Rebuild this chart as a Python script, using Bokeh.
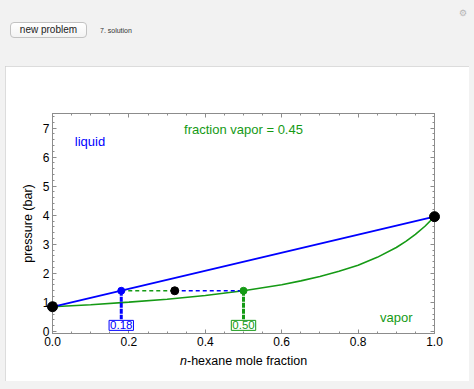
from bokeh.plotting import figure
from bokeh.models import (Range1d, LinearAxis, Label, Button, Div, InlineStyleSheet,
                          FixedTicker, PrintfTickFormatter, CustomJSTickFormatter)
from bokeh.core.properties import value
from bokeh.layouts import column, row
from bokeh.embed import file_html
from bokeh.resources import INLINE

# ---------------- data ----------------
pure_x = [0.0, 1.0]                 # pure heptane / pure hexane
pure_p = [0.85, 3.95]               # saturation pressures (bar)
liquid_x = [0.0, 1.0]               # bubble line (liquid)
liquid_p = [0.85, 3.95]
vapor_x = [0.0, 0.1, 0.2, 0.3, 0.4, 0.5, 0.6, 0.65, 0.7, 0.75, 0.8, 0.85, 0.9, 0.925, 0.95, 0.975, 1.0]
vapor_p = [0.85, 0.92, 1.01, 1.11, 1.24, 1.40, 1.61, 1.74, 1.89, 2.07, 2.28, 2.55, 2.89, 3.10, 3.34, 3.62, 3.95]
x_liquid = 0.18                     # liquid composition on the tie line
y_vapor = 0.50                      # vapor composition on the tie line
z_overall = 0.32                    # overall composition
p_system = 1.40                     # system pressure (bar)
fraction_vapor = 0.45
x_ticks = [0.0, 0.2, 0.4, 0.6, 0.8, 1.0]
y_ticks = [0, 1, 2, 3, 4, 5, 6, 7]

# ---------------- styles ----------------
BLUE = "#0000ff"
GREEN = "#159a15"
FRAME = "#8c8c8c"
BG = "#f2f2f2"
FONT = "Liberation Sans"
BOX_Y = 0.21
BOX_TOP = 0.42
Y0 = -0.07
Y1 = 7.5

x_minor = [round(i * 0.05, 2) for i in range(21)]
y_minor = [round(i * 0.2, 1) for i in range(38)]

p = figure(width=464, height=315, x_range=Range1d(0, 1), y_range=Range1d(Y0, Y1),
           output_backend="svg", toolbar_location=None,
           min_border_left=47, min_border_right=35, min_border_top=47, min_border_bottom=48,
           background_fill_color="white", border_fill_color="white", margin=(0, 0, 0, 5))
p.grid.visible = False
p.outline_line_color = FRAME
p.styles = {"outline": "1px solid #d0d0d0", "outline-offset": "-1px"}

xa = p.below[0]
ya = p.left[0]
xa.ticker = FixedTicker(ticks=x_ticks, minor_ticks=x_minor)
ya.ticker = FixedTicker(ticks=y_ticks, minor_ticks=y_minor)
xa.formatter = PrintfTickFormatter(format="%.1f")
ya.formatter = PrintfTickFormatter(format="%d")
ya.axis_label = "pressure (bar)"
ya.axis_label_text_font = FONT
ya.axis_label_text_font_size = "12.5px"
ya.axis_label_text_font_style = "normal"
ya.axis_label_text_color = "black"
ya.axis_label_standoff = 5

blank = CustomJSTickFormatter(code="return ''")
top_axis = LinearAxis(ticker=FixedTicker(ticks=x_ticks, minor_ticks=x_minor), formatter=blank)
right_axis = LinearAxis(ticker=FixedTicker(ticks=y_ticks, minor_ticks=y_minor), formatter=blank)
p.add_layout(top_axis, "above")
p.add_layout(right_axis, "right")

for ax in [xa, ya, top_axis, right_axis]:
    ax.major_tick_in = 4
    ax.major_tick_out = 0
    ax.minor_tick_in = 2
    ax.minor_tick_out = 0
    ax.axis_line_color = FRAME
    ax.major_tick_line_color = FRAME
    ax.minor_tick_line_color = FRAME
    ax.major_label_standoff = 3
for ax in [xa, ya]:
    ax.major_label_text_font = FONT
    ax.major_label_text_font_size = "12px"
    ax.major_label_text_color = "black"

# curves
p.line(vapor_x, vapor_p, line_color=GREEN, line_width=1.6)
p.line(liquid_x, liquid_p, line_color=BLUE, line_width=1.8)

# tie line
p.line([x_liquid, z_overall], [p_system, p_system], line_color=GREEN, line_width=1.5, line_dash="4 3")
p.line([z_overall, y_vapor], [p_system, p_system], line_color=BLUE, line_width=1.5, line_dash="4 3")

# drop lines to composition boxes
p.segment(x0=[x_liquid], y0=[p_system], x1=[x_liquid], y1=[BOX_TOP], line_color=BLUE,
          line_width=3, line_dash="5 1")
p.segment(x0=[y_vapor], y0=[p_system], x1=[y_vapor], y1=[BOX_TOP], line_color=GREEN,
          line_width=3, line_dash="5 1")

# points
p.scatter([x_liquid], [p_system], size=7, color=BLUE)
p.scatter([y_vapor], [p_system], size=7, color=GREEN)
p.scatter([z_overall], [p_system], size=8, color="black")
p.scatter(pure_x, pure_p, size=10, color="black", level="overlay")

# composition boxes
for xv, col in [(x_liquid, BLUE), (y_vapor, GREEN)]:
    p.add_layout(Label(x=xv, y=BOX_Y, text=f"{xv:.2f}", text_align="center", text_baseline="middle",
                       text_color=col, text_font=FONT, text_font_size="11.5px",
                       background_fill_color="white", border_line_color=col, border_line_width=1,
                       padding=1))

# region texts
p.add_layout(Label(x=0.098, y=6.52, text="liquid", text_align="center", text_baseline="middle",
                   text_color=BLUE, text_font=FONT, text_font_size="13px"))
p.add_layout(Label(x=0.90, y=0.48, text="vapor", text_align="center", text_baseline="middle",
                   text_color=GREEN, text_font=FONT, text_font_size="13px"))
p.add_layout(Label(x=0.50, y=6.96, text=f"fraction vapor = {fraction_vapor:.2f}", text_align="center",
                   text_baseline="middle", text_color=GREEN, text_font=FONT, text_font_size="13px"))

# x axis title with italic n (text glyphs at overlay level, so not clipped to the frame)
p.text(x=[0.352], y=[Y0], text=["n"], y_offset=27, text_align="right", text_baseline="alphabetic",
       text_font=value(FONT), text_font_size="12.5px", text_font_style="italic",
       text_color="black", level="overlay")
p.text(x=[0.352], y=[Y0], text=["-hexane mole fraction"], y_offset=27, text_align="left",
       text_baseline="alphabetic", text_font=value(FONT), text_font_size="12.5px",
       text_color="black", level="overlay")

# ---------------- header (controls) ----------------
btn_css = InlineStyleSheet(css="""
.bk-btn { font-family: 'Liberation Sans', sans-serif; font-size: 10px; padding: 0 4px;
  height: 16px; line-height: 14px; color: #222; border: 1px solid #c2c2c2; border-radius: 4px;
  background: linear-gradient(#ffffff, #f3f3f3); }
""")
btn = Button(label="new problem", width=77, height=16, margin=(22, 0, 28, 10), stylesheets=[btn_css])
step = Div(text="7. solution", width=60, height=10, margin=(26, 0, 0, 13),
           styles={"font-family": "Liberation Sans", "font-size": "7px", "color": "#333"})
gear = Div(text="\u2699", width=10, height=10, margin=(7, 0, 0, 299),
           styles={"font-family": "DejaVu Sans", "font-size": "9px", "color": "#b5b5b5"})
header = row(btn, step, gear, width=474, height=66)

layout = column(header, p, styles={"background-color": BG}, width=474, height=389)

open("out.html", "w").write(file_html(layout, INLINE))
